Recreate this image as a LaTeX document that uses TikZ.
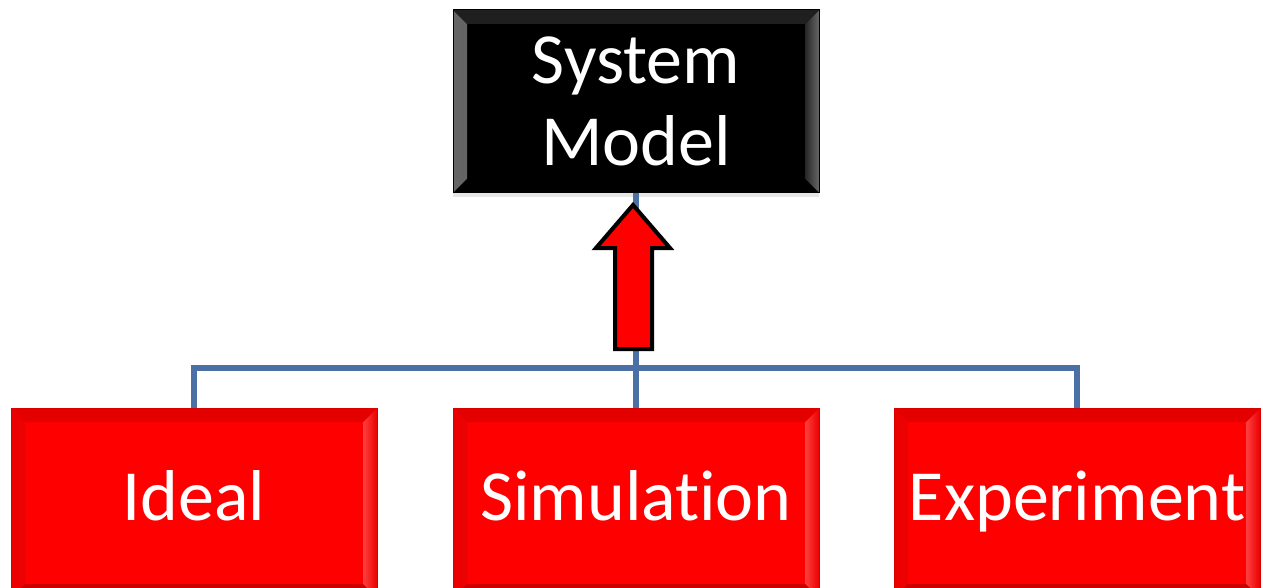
\documentclass[tikz,border=0pt]{standalone}
\usepackage{fontspec}
\setmainfont{Carlito}[Ligatures=NoCommon]
\usetikzlibrary{shadows}
\definecolor{linkblue}{HTML}{4A70A5}
\newcommand\mybevel[4]{%
 \shade[#1] (path picture bounding box.north west) -- ([xshift=14pt,yshift=-14pt]path picture bounding box.north west) -- ([xshift=14pt,yshift=14pt]path picture bounding box.south west) -- (path picture bounding box.south west) -- cycle;
 \shade[#2] (path picture bounding box.north east) -- ([xshift=-14pt,yshift=-14pt]path picture bounding box.north east) -- ([xshift=-14pt,yshift=14pt]path picture bounding box.south east) -- (path picture bounding box.south east) -- cycle;
 \fill[#3] (path picture bounding box.north west) -- ([xshift=14pt,yshift=-14pt]path picture bounding box.north west) -- ([xshift=-14pt,yshift=-14pt]path picture bounding box.north east) -- (path picture bounding box.north east) -- cycle;
 \fill[#4] (path picture bounding box.south west) -- ([xshift=14pt,yshift=14pt]path picture bounding box.south west) -- ([xshift=-14pt,yshift=14pt]path picture bounding box.south east) -- (path picture bounding box.south east) -- cycle;
}
\begin{document}
\begin{tikzpicture}[x=1pt,y=-1pt,
  box/.style={rectangle, minimum width=366pt, inner sep=0pt, outer sep=0pt, text=white,
    font=\fontsize{72}{82}\selectfont, align=center},
  topbox/.style={box, fill=black, draw=black, line width=1pt, minimum height=183pt,
    drop shadow={shadow xshift=0pt, shadow yshift=-4pt, opacity=0.2},
    path picture={\mybevel{left color=black!60, right color=black!85}{left color=black!85, right color=black!60}{black!88}{black}}},
  redbox/.style={box, fill=red, draw=red!85!black, line width=0.8pt, minimum height=190pt,
    text height=50pt, text depth=16pt,
    path picture={\mybevel{left color=red!92!black, right color=red!75!white}{left color=red!75!white, right color=red!92!black}{red!90!black}{red!80!black}}},
  link/.style={draw=linkblue, line width=5.5pt},
  blockarrow/.style={fill=red, draw=black, line width=4pt, line join=miter}
]
\useasboundingbox (0,0) rectangle (1263,588);
\node[topbox] (sys) at (636,101.5) {System\\Model};
\node[redbox] (ideal) at (194,503) {Ideal};
\node[redbox] (sim) at (636,503) {Simulation};
\node[redbox] (exp) at (1077,503) {Experiment};
\coordinate (bus) at (636,368);
\draw[link] (sys.south) -- (sim.north);
\draw[link] (ideal.north) |- (bus) -| (exp.north);
\draw[blockarrow] (633,205) -- (670,248) -- (652,248) -- (652,349) -- (615,349) -- (615,248) -- (596,248) -- cycle;
\end{tikzpicture}
\end{document}
